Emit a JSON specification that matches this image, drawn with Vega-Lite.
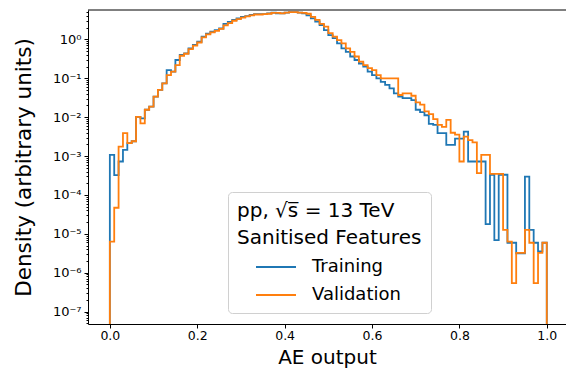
{
  "$schema": "https://vega.github.io/schema/vega-lite/v6.json",
  "width": 478,
  "height": 314,
  "autosize": {"type": "none"},
  "padding": {"left": 88, "top": 10, "right": 0, "bottom": 55},
  "background": "white",
  "config": {
    "view": {"stroke": null},
    "font": "DejaVu Sans",
    "axis": {"domainColor": "#000", "tickColor": "#000", "labelColor": "#000", "titleColor": "#000", "grid": false, "titleFontWeight": "normal", "labelFont": "DejaVu Sans", "titleFont": "DejaVu Sans", "domainWidth": 1, "tickWidth": 1}
  },
  "layer": [
    {
      "data": {"values": [
        {"s":"Training","i":0,"x":0,"y":1e-9},
        {"s":"Training","i":1,"x":0,"y":1.07e-3},
        {"s":"Training","i":2,"x":0.01,"y":3.24e-4},
        {"s":"Training","i":3,"x":0.02,"y":7.24e-4},
        {"s":"Training","i":4,"x":0.03,"y":1.45e-3},
        {"s":"Training","i":5,"x":0.04,"y":2.14e-3},
        {"s":"Training","i":6,"x":0.05,"y":2.40e-3},
        {"s":"Training","i":7,"x":0.06,"y":1.02e-2},
        {"s":"Training","i":8,"x":0.07,"y":9.33e-3},
        {"s":"Training","i":9,"x":0.08,"y":1.55e-2},
        {"s":"Training","i":10,"x":0.09,"y":1.86e-2},
        {"s":"Training","i":11,"x":0.10,"y":3.39e-2},
        {"s":"Training","i":12,"x":0.11,"y":5.01e-2},
        {"s":"Training","i":13,"x":0.12,"y":7.41e-2},
        {"s":"Training","i":14,"x":0.13,"y":0.162},
        {"s":"Training","i":15,"x":0.14,"y":0.148},
        {"s":"Training","i":16,"x":0.15,"y":0.295},
        {"s":"Training","i":17,"x":0.16,"y":0.398},
        {"s":"Training","i":18,"x":0.17,"y":0.437},
        {"s":"Training","i":19,"x":0.18,"y":0.589},
        {"s":"Training","i":20,"x":0.19,"y":0.724},
        {"s":"Training","i":21,"x":0.20,"y":0.871},
        {"s":"Training","i":22,"x":0.21,"y":1.175},
        {"s":"Training","i":23,"x":0.22,"y":1.413},
        {"s":"Training","i":24,"x":0.23,"y":1.585},
        {"s":"Training","i":25,"x":0.24,"y":1.738},
        {"s":"Training","i":26,"x":0.25,"y":1.905},
        {"s":"Training","i":27,"x":0.26,"y":2.512},
        {"s":"Training","i":28,"x":0.27,"y":2.818},
        {"s":"Training","i":29,"x":0.28,"y":3.162},
        {"s":"Training","i":30,"x":0.29,"y":3.467},
        {"s":"Training","i":31,"x":0.30,"y":3.802},
        {"s":"Training","i":32,"x":0.31,"y":3.981},
        {"s":"Training","i":33,"x":0.32,"y":4.266},
        {"s":"Training","i":34,"x":0.33,"y":4.467},
        {"s":"Training","i":35,"x":0.34,"y":4.467},
        {"s":"Training","i":36,"x":0.35,"y":4.467},
        {"s":"Training","i":37,"x":0.36,"y":4.677},
        {"s":"Training","i":38,"x":0.37,"y":4.898},
        {"s":"Training","i":39,"x":0.38,"y":4.677},
        {"s":"Training","i":40,"x":0.39,"y":4.677},
        {"s":"Training","i":41,"x":0.40,"y":4.898},
        {"s":"Training","i":42,"x":0.41,"y":5.012},
        {"s":"Training","i":43,"x":0.42,"y":5.012},
        {"s":"Training","i":44,"x":0.43,"y":4.898},
        {"s":"Training","i":45,"x":0.44,"y":4.677},
        {"s":"Training","i":46,"x":0.45,"y":4.169},
        {"s":"Training","i":47,"x":0.46,"y":3.467},
        {"s":"Training","i":48,"x":0.47,"y":2.884},
        {"s":"Training","i":49,"x":0.48,"y":2.344},
        {"s":"Training","i":50,"x":0.49,"y":1.738},
        {"s":"Training","i":51,"x":0.50,"y":1.288},
        {"s":"Training","i":52,"x":0.51,"y":1.072},
        {"s":"Training","i":53,"x":0.52,"y":0.794},
        {"s":"Training","i":54,"x":0.53,"y":0.589},
        {"s":"Training","i":55,"x":0.54,"y":0.479},
        {"s":"Training","i":56,"x":0.55,"y":0.363},
        {"s":"Training","i":57,"x":0.56,"y":0.295},
        {"s":"Training","i":58,"x":0.57,"y":0.240},
        {"s":"Training","i":59,"x":0.58,"y":0.200},
        {"s":"Training","i":60,"x":0.59,"y":0.148},
        {"s":"Training","i":61,"x":0.60,"y":0.120},
        {"s":"Training","i":62,"x":0.61,"y":0.100},
        {"s":"Training","i":63,"x":0.62,"y":8.13e-2},
        {"s":"Training","i":64,"x":0.63,"y":6.76e-2},
        {"s":"Training","i":65,"x":0.64,"y":5.50e-2},
        {"s":"Training","i":66,"x":0.65,"y":4.07e-2},
        {"s":"Training","i":67,"x":0.66,"y":3.39e-2},
        {"s":"Training","i":68,"x":0.67,"y":3.09e-2},
        {"s":"Training","i":69,"x":0.68,"y":3.09e-2},
        {"s":"Training","i":70,"x":0.69,"y":2.75e-2},
        {"s":"Training","i":71,"x":0.70,"y":1.55e-2},
        {"s":"Training","i":72,"x":0.71,"y":1.35e-2},
        {"s":"Training","i":73,"x":0.72,"y":1.12e-2},
        {"s":"Training","i":74,"x":0.73,"y":6.76e-3},
        {"s":"Training","i":75,"x":0.74,"y":6.31e-3},
        {"s":"Training","i":76,"x":0.75,"y":3.89e-3},
        {"s":"Training","i":77,"x":0.76,"y":3.89e-3},
        {"s":"Training","i":78,"x":0.77,"y":1.95e-3},
        {"s":"Training","i":79,"x":0.78,"y":1.95e-3},
        {"s":"Training","i":80,"x":0.79,"y":2.82e-3},
        {"s":"Training","i":81,"x":0.80,"y":2.82e-3},
        {"s":"Training","i":82,"x":0.81,"y":4.27e-3},
        {"s":"Training","i":83,"x":0.82,"y":7.24e-4},
        {"s":"Training","i":84,"x":0.83,"y":7.24e-4},
        {"s":"Training","i":85,"x":0.84,"y":7.24e-4},
        {"s":"Training","i":86,"x":0.85,"y":7.24e-4},
        {"s":"Training","i":87,"x":0.86,"y":1.78e-5},
        {"s":"Training","i":88,"x":0.87,"y":3.31e-4},
        {"s":"Training","i":89,"x":0.88,"y":6.92e-6},
        {"s":"Training","i":90,"x":0.89,"y":3.31e-4},
        {"s":"Training","i":91,"x":0.90,"y":3.31e-4},
        {"s":"Training","i":92,"x":0.91,"y":5.89e-6},
        {"s":"Training","i":93,"x":0.92,"y":5.89e-6},
        {"s":"Training","i":94,"x":0.93,"y":3.16e-6},
        {"s":"Training","i":95,"x":0.94,"y":3.16e-6},
        {"s":"Training","i":96,"x":0.95,"y":2.95e-4},
        {"s":"Training","i":97,"x":0.96,"y":1.26e-5},
        {"s":"Training","i":98,"x":0.97,"y":5.89e-6},
        {"s":"Training","i":99,"x":0.98,"y":3.55e-6},
        {"s":"Training","i":100,"x":0.99,"y":5.89e-6},
        {"s":"Training","i":101,"x":1.0,"y":5.89e-6},
        {"s":"Training","i":102,"x":1.0,"y":1e-9},
        {"s":"Validation","i":0,"x":0,"y":1e-9},
        {"s":"Validation","i":1,"x":0,"y":6.31e-6},
        {"s":"Validation","i":2,"x":0.01,"y":4.68e-5},
        {"s":"Validation","i":3,"x":0.02,"y":1.74e-3},
        {"s":"Validation","i":4,"x":0.03,"y":3.89e-3},
        {"s":"Validation","i":5,"x":0.04,"y":2.14e-3},
        {"s":"Validation","i":6,"x":0.05,"y":2.40e-3},
        {"s":"Validation","i":7,"x":0.06,"y":1.02e-2},
        {"s":"Validation","i":8,"x":0.07,"y":6.92e-3},
        {"s":"Validation","i":9,"x":0.08,"y":1.55e-2},
        {"s":"Validation","i":10,"x":0.09,"y":1.86e-2},
        {"s":"Validation","i":11,"x":0.10,"y":3.39e-2},
        {"s":"Validation","i":12,"x":0.11,"y":5.01e-2},
        {"s":"Validation","i":13,"x":0.12,"y":7.41e-2},
        {"s":"Validation","i":14,"x":0.13,"y":0.120},
        {"s":"Validation","i":15,"x":0.14,"y":0.148},
        {"s":"Validation","i":16,"x":0.15,"y":0.219},
        {"s":"Validation","i":17,"x":0.16,"y":0.380},
        {"s":"Validation","i":18,"x":0.17,"y":0.427},
        {"s":"Validation","i":19,"x":0.18,"y":0.562},
        {"s":"Validation","i":20,"x":0.19,"y":0.692},
        {"s":"Validation","i":21,"x":0.20,"y":0.832},
        {"s":"Validation","i":22,"x":0.21,"y":1.122},
        {"s":"Validation","i":23,"x":0.22,"y":1.349},
        {"s":"Validation","i":24,"x":0.23,"y":1.514},
        {"s":"Validation","i":25,"x":0.24,"y":1.660},
        {"s":"Validation","i":26,"x":0.25,"y":1.862},
        {"s":"Validation","i":27,"x":0.26,"y":2.291},
        {"s":"Validation","i":28,"x":0.27,"y":2.630},
        {"s":"Validation","i":29,"x":0.28,"y":3.020},
        {"s":"Validation","i":30,"x":0.29,"y":3.311},
        {"s":"Validation","i":31,"x":0.30,"y":3.631},
        {"s":"Validation","i":32,"x":0.31,"y":3.890},
        {"s":"Validation","i":33,"x":0.32,"y":4.169},
        {"s":"Validation","i":34,"x":0.33,"y":4.365},
        {"s":"Validation","i":35,"x":0.34,"y":4.365},
        {"s":"Validation","i":36,"x":0.35,"y":4.467},
        {"s":"Validation","i":37,"x":0.36,"y":4.571},
        {"s":"Validation","i":38,"x":0.37,"y":4.786},
        {"s":"Validation","i":39,"x":0.38,"y":4.786},
        {"s":"Validation","i":40,"x":0.39,"y":4.677},
        {"s":"Validation","i":41,"x":0.40,"y":4.898},
        {"s":"Validation","i":42,"x":0.41,"y":5.012},
        {"s":"Validation","i":43,"x":0.42,"y":5.012},
        {"s":"Validation","i":44,"x":0.43,"y":4.898},
        {"s":"Validation","i":45,"x":0.44,"y":4.786},
        {"s":"Validation","i":46,"x":0.45,"y":4.571},
        {"s":"Validation","i":47,"x":0.46,"y":3.802},
        {"s":"Validation","i":48,"x":0.47,"y":3.162},
        {"s":"Validation","i":49,"x":0.48,"y":2.512},
        {"s":"Validation","i":50,"x":0.49,"y":2.138},
        {"s":"Validation","i":51,"x":0.50,"y":1.445},
        {"s":"Validation","i":52,"x":0.51,"y":1.175},
        {"s":"Validation","i":53,"x":0.52,"y":0.955},
        {"s":"Validation","i":54,"x":0.53,"y":0.794},
        {"s":"Validation","i":55,"x":0.54,"y":0.589},
        {"s":"Validation","i":56,"x":0.55,"y":0.479},
        {"s":"Validation","i":57,"x":0.56,"y":0.363},
        {"s":"Validation","i":58,"x":0.57,"y":0.269},
        {"s":"Validation","i":59,"x":0.58,"y":0.219},
        {"s":"Validation","i":60,"x":0.59,"y":0.182},
        {"s":"Validation","i":61,"x":0.60,"y":0.162},
        {"s":"Validation","i":62,"x":0.61,"y":0.120},
        {"s":"Validation","i":63,"x":0.62,"y":0.100},
        {"s":"Validation","i":64,"x":0.63,"y":0.100},
        {"s":"Validation","i":65,"x":0.64,"y":0.100},
        {"s":"Validation","i":66,"x":0.65,"y":0.100},
        {"s":"Validation","i":67,"x":0.66,"y":3.72e-2},
        {"s":"Validation","i":68,"x":0.67,"y":4.07e-2},
        {"s":"Validation","i":69,"x":0.68,"y":4.07e-2},
        {"s":"Validation","i":70,"x":0.69,"y":3.55e-2},
        {"s":"Validation","i":71,"x":0.70,"y":2.40e-2},
        {"s":"Validation","i":72,"x":0.71,"y":2.09e-2},
        {"s":"Validation","i":73,"x":0.72,"y":1.41e-2},
        {"s":"Validation","i":74,"x":0.73,"y":1.20e-2},
        {"s":"Validation","i":75,"x":0.74,"y":8.91e-3},
        {"s":"Validation","i":76,"x":0.75,"y":6.31e-3},
        {"s":"Validation","i":77,"x":0.76,"y":5.62e-3},
        {"s":"Validation","i":78,"x":0.77,"y":8.51e-3},
        {"s":"Validation","i":79,"x":0.78,"y":3.98e-3},
        {"s":"Validation","i":80,"x":0.79,"y":3.55e-3},
        {"s":"Validation","i":81,"x":0.80,"y":7.24e-4},
        {"s":"Validation","i":82,"x":0.81,"y":3.16e-3},
        {"s":"Validation","i":83,"x":0.82,"y":2.57e-3},
        {"s":"Validation","i":84,"x":0.83,"y":2.24e-3},
        {"s":"Validation","i":85,"x":0.84,"y":3.63e-4},
        {"s":"Validation","i":86,"x":0.85,"y":1.07e-3},
        {"s":"Validation","i":87,"x":0.86,"y":1.07e-3},
        {"s":"Validation","i":88,"x":0.87,"y":3.47e-4},
        {"s":"Validation","i":89,"x":0.88,"y":3.47e-4},
        {"s":"Validation","i":90,"x":0.89,"y":3.47e-4},
        {"s":"Validation","i":91,"x":0.90,"y":1.26e-5},
        {"s":"Validation","i":92,"x":0.91,"y":6.31e-6},
        {"s":"Validation","i":93,"x":0.92,"y":5.37e-7},
        {"s":"Validation","i":94,"x":0.93,"y":3.24e-6},
        {"s":"Validation","i":95,"x":0.94,"y":3.24e-6},
        {"s":"Validation","i":96,"x":0.95,"y":1.26e-5},
        {"s":"Validation","i":97,"x":0.96,"y":5.89e-6},
        {"s":"Validation","i":98,"x":0.97,"y":5.37e-7},
        {"s":"Validation","i":99,"x":0.98,"y":3.24e-6},
        {"s":"Validation","i":100,"x":0.99,"y":5.89e-6},
        {"s":"Validation","i":101,"x":1.0,"y":5.89e-6},
        {"s":"Validation","i":102,"x":1.0,"y":1e-9}
      ]},
      "mark": {"type": "line", "interpolate": "step-after", "clip": true, "strokeWidth": 1.8},
      "encoding": {
        "x": {
          "field": "x", "type": "quantitative",
          "scale": {"domain": [-0.05, 1.044], "nice": false, "zero": false},
          "axis": {"title": "AE output", "titleFontSize": 20, "titlePadding": 5, "values": [0, 0.2, 0.4, 0.6, 0.8, 1.0], "format": ".1f", "labelFontSize": 12.5, "tickSize": 4, "labelPadding": 1.5}
        },
        "y": {
          "field": "y", "type": "quantitative",
          "scale": {"type": "log", "domain": [4.8e-8, 5.7], "nice": false},
          "axis": {
            "title": "Density (arbitrary units)", "titleFontSize": 21.5, "titlePadding": 17,
            "values": [5e-8,6e-8,7e-8,8e-8,9e-8,1e-7,2e-7,3e-7,4e-7,5e-7,6e-7,7e-7,8e-7,9e-7,1e-6,2e-6,3e-6,4e-6,5e-6,6e-6,7e-6,8e-6,9e-6,1e-5,2e-5,3e-5,4e-5,5e-5,6e-5,7e-5,8e-5,9e-5,1e-4,2e-4,3e-4,4e-4,5e-4,6e-4,7e-4,8e-4,9e-4,1e-3,2e-3,3e-3,4e-3,5e-3,6e-3,7e-3,8e-3,9e-3,1e-2,2e-2,3e-2,4e-2,5e-2,6e-2,7e-2,8e-2,9e-2,0.1,0.2,0.3,0.4,0.5,0.6,0.7,0.8,0.9,1,2,3,4,5],
            "labelExpr": "abs(log(datum.value)/LN10 - round(log(datum.value)/LN10)) < 0.001 ? '10' + replace(replace(replace(replace(replace(replace(replace(replace(replace('' + round(log(datum.value)/LN10), '-', '⁻'), '0', '⁰'), '1', '¹'), '2', '²'), '3', '³'), '4', '⁴'), '5', '⁵'), '6', '⁶'), '7', '⁷') : ''",
            "tickSize": {"condition": {"test": "abs(log(datum.value)/LN10 - round(log(datum.value)/LN10)) < 0.001", "value": 4}, "value": 2},
            "labelFontSize": 13, "labelOverlap": false, "labelBound": false, "labelPadding": 3
          }
        },
        "color": {
          "field": "s", "type": "nominal",
          "scale": {"domain": ["Training", "Validation"], "range": ["#1f77b4", "#ff7f0e"]},
          "legend": {
            "orient": "none", "legendX": 140, "legendY": 182,
            "title": ["pp, √s̅ = 13 TeV", "Sanitised Features"],
            "titleFontSize": 20, "titleFontWeight": "normal", "titleColor": "#000", "titleLineHeight": 27, "titleAlign": "left", "titlePadding": 8, "titleLimit": 400,
            "labelFontSize": 18, "labelColor": "#000", "labelOffset": 25, "labelLimit": 300,
            "symbolType": "M-2,0H2", "symbolSize": 400, "symbolStrokeWidth": 2, "symbolOffset": 28,
            "rowPadding": 8, "padding": 9,
            "fillColor": "white", "strokeColor": "#d0d0d0", "cornerRadius": 4
          }
        },
        "order": {"field": "i", "type": "quantitative"}
      }
    },
    {
      "data": {"values": [{}]},
      "mark": {"type": "rule", "color": "#000", "strokeWidth": 1},
      "encoding": {"y": {"datum": 5.7}}
    }
  ]
}
